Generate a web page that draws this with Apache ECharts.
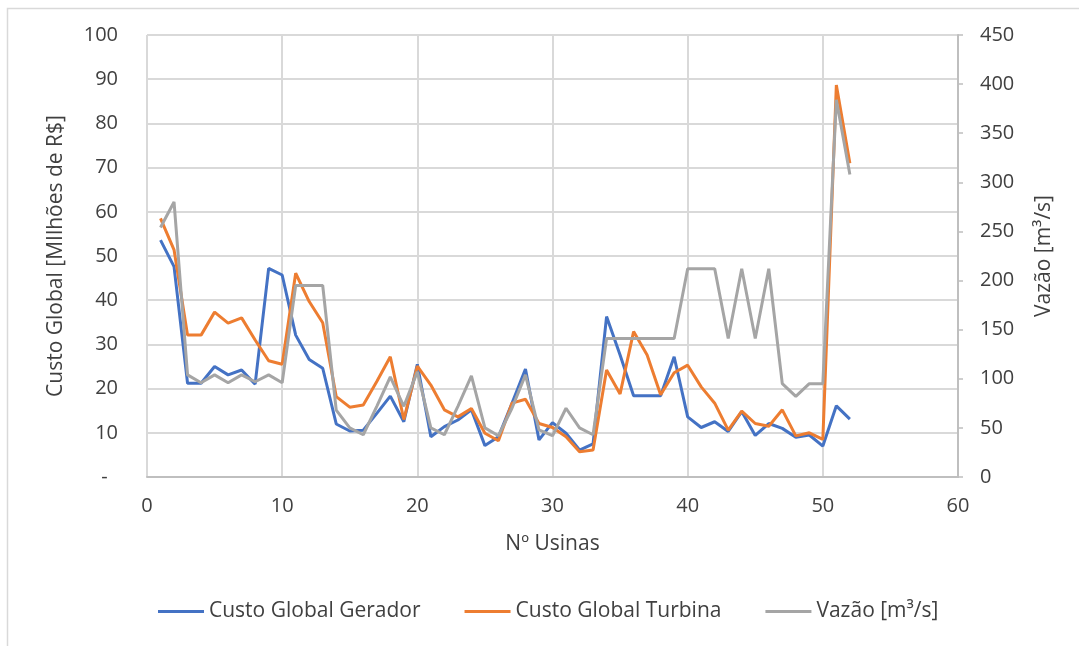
<!DOCTYPE html>
<html>
<head>
<meta charset="utf-8">
<script src="https://cdn.jsdelivr.net/npm/echarts@6/dist/echarts.min.js"></script>
<style>
  html, body { margin: 0; padding: 0; background: #fff; }
  #chart { width: 1079px; height: 646px; }
</style>
</head>
<body>
<div id="chart"></div>
<script>
// Nº Usinas (eixo x)
const usinas = [1, 2, 3, 4, 5, 6, 7, 8, 9, 10, 11, 12, 13, 14, 15, 16, 17, 18, 19, 20,
  21, 22, 23, 24, 25, 26, 27, 28, 29, 30, 31, 32, 33, 34, 35, 36, 37, 38, 39, 40,
  41, 42, 43, 44, 45, 46, 47, 48, 49, 50, 51, 52]

// Custo Global Gerador [Milhões de R$]
const custoGerador = [53.6, 47.6, 21.2, 21.2, 25.0, 23.1, 24.2, 21.0, 47.2, 45.7,
  32.1, 26.6, 24.6, 12.0, 10.4, 10.6, 14.4, 18.3, 12.5, 25.5,
  9.1, 11.4, 12.9, 15.2, 7.1, 9.1, 16.7, 24.4, 8.4, 12.3,
  9.9, 6.1, 7.5, 36.3, 27.6, 18.4, 18.4, 18.4, 27.2, 13.6,
  11.2, 12.5, 10.3, 14.8, 9.4, 12.1, 11.0, 9.0, 9.5, 7.0,
  16.1, 13.1]

// Custo Global Turbina [Milhões de R$]
const custoTurbina = [58.5, 51.4, 32.1, 32.1, 37.3, 34.8, 36.0, 31.0, 26.3, 25.5,
  46.1, 39.7, 34.9, 18.2, 15.8, 16.3, 21.6, 27.2, 13.0, 25.1,
  20.8, 15.2, 13.6, 15.5, 9.9, 8.2, 16.7, 17.6, 12.1, 11.2,
  9.1, 5.7, 6.1, 24.2, 18.8, 32.9, 27.6, 18.6, 23.6, 25.3,
  20.4, 16.7, 10.6, 14.9, 12.1, 11.5, 15.2, 9.3, 10.0, 8.5,
  88.7, 71.0]

// Vazão [m³/s]
const vazao = [254, 280, 104, 96, 104, 96, 104, 97, 104, 96,
  195, 195, 195, 68, 50, 43, 72, 102, 72, 107,
  50, 43, 72, 103, 50, 42, 70, 104, 48, 42,
  70, 50, 43, 141, 141, 141, 141, 141, 141, 212,
  212, 212, 141, 212, 141, 212, 95, 82, 95, 95,
  384, 308]

const nomes = ['Custo Global Gerador', 'Custo Global Turbina', 'Vazão [m³/s]']
const cores = ['#4472C4', '#ED7D31', '#A5A5A5']

// junta x e y em pares
function pares(ys) {
  return usinas.map((x, i) => [x, ys[i]])
}

const fonte = 'Open Sans'
const corTexto = '#404040'
const corGrade = '#d9d9d9'

const chart = echarts.init(document.getElementById('chart'), null, { renderer: 'canvas' })

const option = {
  animation: false,
  backgroundColor: '#fff',
  textStyle: { fontFamily: fonte },
  // moldura da área do gráfico
  graphic: [
    {
      type: 'polyline',
      shape: { points: [[7.5, 660], [7.5, 8.5], [1090, 8.5]] },
      style: { stroke: '#d9d9d9', lineWidth: 1.5, fill: null },
      silent: true
    }
  ],
  grid: { left: 147, right: 121, top: 35, bottom: 169, containLabel: false },
  legend: {
    left: 153,
    top: 596,
    icon: 'rect',
    itemWidth: 46,
    itemHeight: 3,
    itemGap: 44,
    textStyle: { fontFamily: fonte, fontSize: 21, color: corTexto },
    data: nomes
  },
  xAxis: {
    type: 'value',
    min: 0,
    max: 60,
    interval: 10,
    name: 'Nº Usinas',
    nameLocation: 'middle',
    nameGap: 57,
    nameTextStyle: { fontFamily: fonte, fontSize: 21, color: corTexto },
    axisLine: { show: true, lineStyle: { color: '#bfbfbf', width: 2 } },
    axisTick: { show: false },
    axisLabel: { margin: 19, fontFamily: fonte, fontSize: 20, color: corTexto },
    splitLine: { show: true, lineStyle: { color: corGrade, width: 2 } }
  },
  yAxis: [
    {
      type: 'value',
      min: 0,
      max: 100,
      interval: 10,
      name: 'Custo Global [MIlhões de R$]',
      nameLocation: 'middle',
      nameGap: 80,
      nameTextStyle: { fontFamily: fonte, fontSize: 21, color: corTexto },
      axisLine: { show: false },
      axisTick: { show: false },
      axisLabel: {
        margin: 29,
        fontFamily: fonte,
        fontSize: 20,
        color: corTexto,
        formatter: v => (v === 0 ? '-  ' : String(v))
      },
      splitLine: { show: true, lineStyle: { color: corGrade, width: 2 } }
    },
    {
      type: 'value',
      min: 0,
      max: 450,
      interval: 50,
      position: 'right',
      name: 'Vazão [m³/s]',
      nameLocation: 'middle',
      nameGap: 76,
      nameTextStyle: { fontFamily: fonte, fontSize: 21, color: corTexto },
      axisLine: { show: true, lineStyle: { color: '#bfbfbf', width: 2 } },
      axisTick: { show: true, inside: false, length: 5, lineStyle: { color: '#bfbfbf', width: 1.5 } },
      axisLabel: { margin: 22, fontFamily: fonte, fontSize: 20, color: corTexto },
      splitLine: { show: false }
    }
  ],
  series: [
    {
      type: 'line',
      name: nomes[0],
      yAxisIndex: 0,
      data: pares(custoGerador),
      symbol: 'none',
      lineStyle: { color: cores[0], width: 3 },
      itemStyle: { color: cores[0] }
    },
    {
      type: 'line',
      name: nomes[1],
      yAxisIndex: 0,
      data: pares(custoTurbina),
      symbol: 'none',
      lineStyle: { color: cores[1], width: 3 },
      itemStyle: { color: cores[1] }
    },
    {
      type: 'line',
      name: nomes[2],
      yAxisIndex: 1,
      data: pares(vazao),
      symbol: 'none',
      lineStyle: { color: cores[2], width: 3 },
      itemStyle: { color: cores[2] }
    }
  ]
}

chart.setOption(option)
</script>
</body>
</html>
